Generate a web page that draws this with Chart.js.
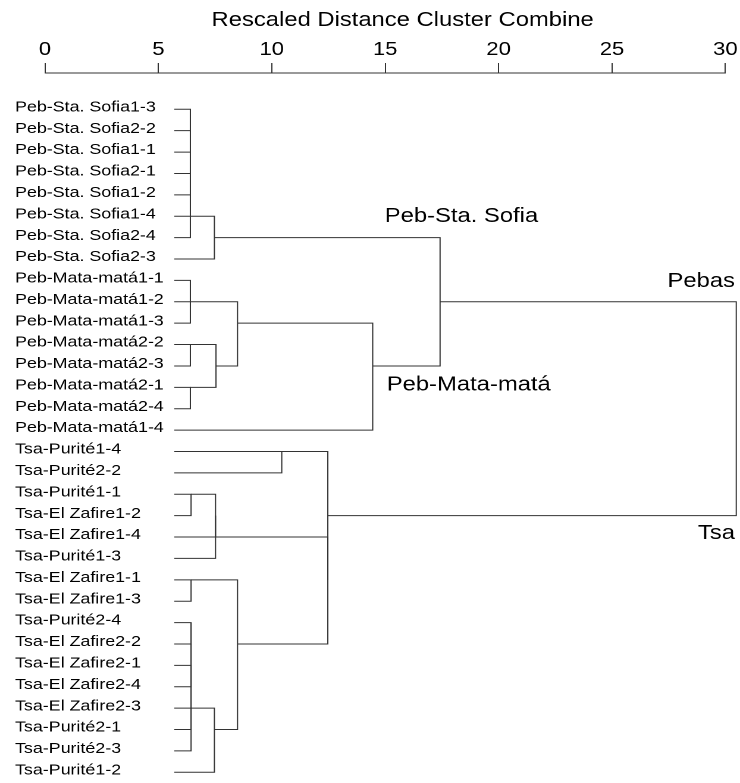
<!DOCTYPE html>
<html>
<head>
<meta charset="utf-8">
<title>Dendrogram</title>
<script src="https://cdn.jsdelivr.net/npm/chart.js@4.4.1/dist/chart.umd.min.js"></script>
<style>
  html, body { margin: 0; padding: 0; background: #fff; overflow: hidden; }
  /* the source figure is stretched sideways, so the canvas is too */
  #wrap { width: 622px; height: 783px; transform: scaleX(1.1897); transform-origin: 0 0; }
</style>
</head>
<body>
<div id="wrap"><canvas id="DendroCanvas" width="622" height="783"></canvas></div>
<script>
var leafLabels = [
    "Peb-Sta. Sofia1-3", "Peb-Sta. Sofia2-2", "Peb-Sta. Sofia1-1", "Peb-Sta. Sofia2-1",
    "Peb-Sta. Sofia1-2", "Peb-Sta. Sofia1-4", "Peb-Sta. Sofia2-4", "Peb-Sta. Sofia2-3",
    "Peb-Mata-matá1-1", "Peb-Mata-matá1-2", "Peb-Mata-matá1-3", "Peb-Mata-matá2-2",
    "Peb-Mata-matá2-3", "Peb-Mata-matá2-1", "Peb-Mata-matá2-4", "Peb-Mata-matá1-4",
    "Tsa-Purité1-4", "Tsa-Purité2-2", "Tsa-Purité1-1", "Tsa-El Zafire1-2",
    "Tsa-El Zafire1-4", "Tsa-Purité1-3", "Tsa-El Zafire1-1", "Tsa-El Zafire1-3",
    "Tsa-Purité2-4", "Tsa-El Zafire2-2", "Tsa-El Zafire2-1", "Tsa-El Zafire2-4",
    "Tsa-El Zafire2-3", "Tsa-Purité2-1", "Tsa-Purité2-3", "Tsa-Purité1-2"
];

var xTicks = [0, 5, 10, 15, 20, 25, 30];

// distance where the leaf stubs begin
var leafStart = 5.7;

// agglomeration schedule, a cluster is named by its first row
var mergeA = [1, 1, 1, 1, 1, 1, 1,
              9, 9, 12, 14, 12, 9, 9, 1,
              17, 19, 19, 19, 23, 25, 27, 25, 29, 25, 25, 25, 23, 19, 17, 1];
var mergeB = [2, 3, 4, 5, 6, 7, 8,
              10, 11, 13, 15, 14, 12, 16, 9,
              18, 20, 21, 22, 24, 26, 28, 27, 30, 29, 31, 32, 25, 23, 19, 17];
var mergeDist = [6.41, 6.41, 6.41, 6.41, 6.41, 6.41, 7.47,
                 6.41, 6.41, 6.41, 6.41, 7.54, 8.49, 14.45, 17.42,
                 10.44, 6.44, 7.52, 7.52, 6.44, 6.44, 6.44, 6.44, 6.44, 6.44, 6.44, 7.47, 8.49, 12.47, 12.47, 30.48];

var groupNames = ["Peb-Sta. Sofia", "Peb-Mata-matá", "Pebas", "Tsa"];
var axisTitle = "Rescaled Distance Cluster Combine";

Chart.defaults.font.family = '"Liberation Sans", Arial, sans-serif';
Chart.defaults.color = '#000';

function BuildBranches() {
    var rowOf = {};
    var heightOf = {};
    leafLabels.forEach(function (label, i) {
        rowOf[i + 1] = i + 1;
        heightOf[i + 1] = leafStart;
    });

    var sets = [];
    for (var i = 0; i < mergeA.length; i++) {
        var a = mergeA[i], b = mergeB[i], d = mergeDist[i];
        var ra = rowOf[a], rb = rowOf[b];
        sets.push({
            data: [
                { x: heightOf[a], y: ra },
                { x: d, y: ra },
                { x: d, y: rb },
                { x: heightOf[b], y: rb }
            ],
            showLine: true,
            borderColor: '#333',
            borderWidth: 1,
            pointRadius: 0,
            tension: 0,
            fill: false,
            clip: false
        });
        rowOf[a] = Math.floor((ra + rb) / 2);
        heightOf[a] = d;
    }
    return sets;
}

// cluster names beside the tree, and the axis title (it sits off centre)
var groupLabels = {
    id: 'groupLabels',
    afterDatasetsDraw: function (chart, args, opts) {
        var ctx = chart.ctx;
        var xs = chart.scales.x, ys = chart.scales.y;
        ctx.save();
        ctx.font = '20px "Liberation Sans", Arial, sans-serif';
        ctx.fillStyle = '#000';
        ctx.textBaseline = 'middle';
        opts.items.forEach(function (item, i) {
            ctx.textAlign = item.align;
            ctx.fillText(groupNames[i], xs.getPixelForValue(item.at), ys.getPixelForValue(item.row));
        });
        ctx.textAlign = 'center';
        ctx.fillText(axisTitle, xs.getPixelForValue(opts.titleAt), opts.titleY);
        ctx.restore();
    }
};

function InitDendrogram() {
    new Chart(document.getElementById("DendroCanvas"), {
        type: 'scatter',
        data: { datasets: BuildBranches() },
        plugins: [groupLabels],
        options: {
            responsive: false,
            animation: false,
            devicePixelRatio: 2,
            layout: { padding: { left: 12.6, right: 10.1, top: 0, bottom: 3 } },
            plugins: {
                legend: { display: false },
                tooltip: { enabled: false },
                groupLabels: {
                    titleAt: 15.77,
                    titleY: 20.4,
                    items: [
                        { at: 14.98, row: 6.01, align: 'left' },
                        { at: 15.07, row: 13.88, align: 'left' },
                        { at: 30.42, row: 9.06, align: 'right' },
                        { at: 30.42, row: 20.83, align: 'right' }
                    ]
                }
            },
            scales: {
                x: {
                    type: 'linear',
                    position: 'top',
                    min: 0,
                    max: 30,
                    afterBuildTicks: function (scale) {
                        scale.ticks = xTicks.map(function (v) { return { value: v }; });
                    },
                    afterFit: function (scale) { scale.height = 73; },
                    ticks: { font: { size: 18.5 }, color: '#000', padding: 2 },
                    grid: { drawOnChartArea: false, drawTicks: true, tickLength: 10, color: '#333', lineWidth: 1 },
                    border: { display: true, color: '#333', width: 1 }
                },
                y: {
                    type: 'linear',
                    reverse: true,
                    min: -0.697,
                    max: 32.36,
                    afterBuildTicks: function (scale) {
                        scale.ticks = leafLabels.map(function (l, i) { return { value: i + 1 }; });
                    },
                    afterFit: function (scale) { scale.width = 25.2; },
                    ticks: {
                        autoSkip: false,
                        mirror: true,
                        crossAlign: 'near',
                        padding: -25.2,
                        labelOffset: -2,
                        font: { size: 15 },
                        color: '#000',
                        callback: function (value) { return leafLabels[value - 1]; }
                    },
                    grid: { display: false },
                    border: { display: false }
                }
            }
        }
    });
}

InitDendrogram();
</script>
</body>
</html>
